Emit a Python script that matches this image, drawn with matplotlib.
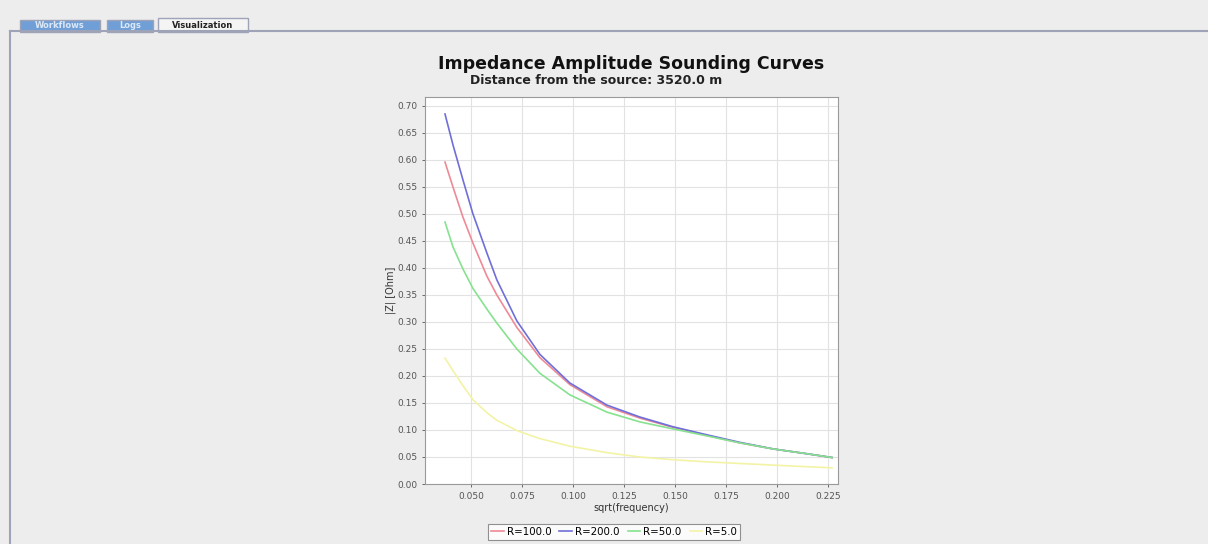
import matplotlib
matplotlib.use("Agg")
import matplotlib.pyplot as plt
import matplotlib.ticker as mticker
from matplotlib.patches import Rectangle
from matplotlib.lines import Line2D

# sqrt(frequency) samples
sqrt_freq = [0.0373, 0.0412, 0.0461, 0.0510, 0.0578, 0.0627, 0.0725, 0.0838, 0.0985,
             0.1167, 0.1328, 0.1490, 0.1657, 0.1819, 0.1980, 0.2147, 0.2270]

# |Z| in Ohm for each resistivity
z_r100 = [0.596, 0.550, 0.494, 0.446, 0.385, 0.350, 0.290, 0.234, 0.184,
          0.143, 0.122, 0.105, 0.090, 0.076, 0.065, 0.056, 0.049]
z_r200 = [0.685, 0.628, 0.563, 0.500, 0.428, 0.378, 0.302, 0.240, 0.187,
          0.146, 0.124, 0.106, 0.091, 0.077, 0.065, 0.056, 0.049]
z_r50 = [0.485, 0.439, 0.398, 0.362, 0.324, 0.298, 0.250, 0.205, 0.165,
         0.133, 0.115, 0.102, 0.089, 0.076, 0.065, 0.056, 0.049]
z_r5 = [0.233, 0.210, 0.182, 0.156, 0.132, 0.118, 0.099, 0.084, 0.070,
        0.058, 0.050, 0.045, 0.041, 0.038, 0.035, 0.032, 0.030]

series_labels = ["R=100.0", "R=200.0", "R=50.0", "R=5.0"]
series_colors = ["#ee8a96", "#6f6fd9", "#86e28f", "#f3f3a6"]

tab_names = ["Workflows", "Logs", "Visualization"]

W, H = 1208, 544
BG = "#ededed"


def fx(px):
    return px / W


def fy(py):
    return 1 - py / H


fig = plt.figure(figsize=(W / 100, H / 100), dpi=100, facecolor=BG)

# window frame and tabs
fig.add_artist(Line2D([fx(10), fx(1208)], [fy(31), fy(31)], color="#9ea3b8", lw=1.5))
fig.add_artist(Line2D([fx(10), fx(10)], [fy(31), fy(544)], color="#9ea3b8", lw=1.5))
tab_boxes = [(20, 100), (107, 153), (158, 248)]
for name, (x0, x1) in zip(tab_names, tab_boxes):
    active = name == "Visualization"
    top = 18 if active else 20
    fig.add_artist(Rectangle((fx(x0), fy(32)), fx(x1 - x0), (32 - top) / H,
                             transform=fig.transFigure,
                             facecolor="#f4f4f4" if active else "#6f9fd6",
                             edgecolor="#9ea3b8", lw=1))
    fig.text(fx((x0 + x1) / 2), fy(26), name, ha="center", va="center",
             fontsize=6, fontweight="bold",
             color="#222222" if active else "#dce8f7")

ax = fig.add_axes([fx(425), fy(484), fx(838 - 425), (484 - 97) / H])
ax.set_facecolor("white")

for vals, lab, col in zip([z_r100, z_r200, z_r50, z_r5], series_labels, series_colors):
    ax.plot(sqrt_freq, vals, color=col, lw=1.2, label=lab)

ax.set_xlim(0.0275, 0.2299)
ax.set_ylim(0.0, 0.7165)
ax.xaxis.set_major_locator(mticker.MultipleLocator(0.025))
ax.yaxis.set_major_locator(mticker.MultipleLocator(0.05))
ax.xaxis.set_major_formatter(mticker.FormatStrFormatter("%.3f"))
ax.yaxis.set_major_formatter(mticker.FormatStrFormatter("%.2f"))
ax.grid(True, color="#e2e2e2", lw=0.8)
ax.set_axisbelow(True)
ax.tick_params(labelsize=6.5, colors="#555555", length=2, width=0.6)
for s in ax.spines.values():
    s.set_color("#9a9a9a")
    s.set_linewidth(0.8)

ax.set_xlabel("sqrt(frequency)", fontsize=7, color="#333333", labelpad=2)
ax.set_ylabel("|Z| [Ohm]", fontsize=7, color="#333333", labelpad=1)

fig.text(fx(631), fy(64), "Impedance Amplitude Sounding Curves", ha="center",
         va="center", fontsize=12.5, fontweight="bold", color="#111111")
fig.text(fx(596), fy(81), "Distance from the source: 3520.0 m", ha="center",
         va="center", fontsize=9, fontweight="bold", color="#222222")

leg = fig.legend(loc="center", bbox_to_anchor=(fx(614), fy(532)), ncol=4,
                 fontsize=7.4, frameon=True, fancybox=False, handlelength=1.2,
                 handletextpad=0.3, columnspacing=0.8, borderpad=0.3)
leg.get_frame().set_edgecolor("#777777")
leg.get_frame().set_linewidth(0.8)

fig.savefig("out.png", dpi=100, facecolor=BG)
